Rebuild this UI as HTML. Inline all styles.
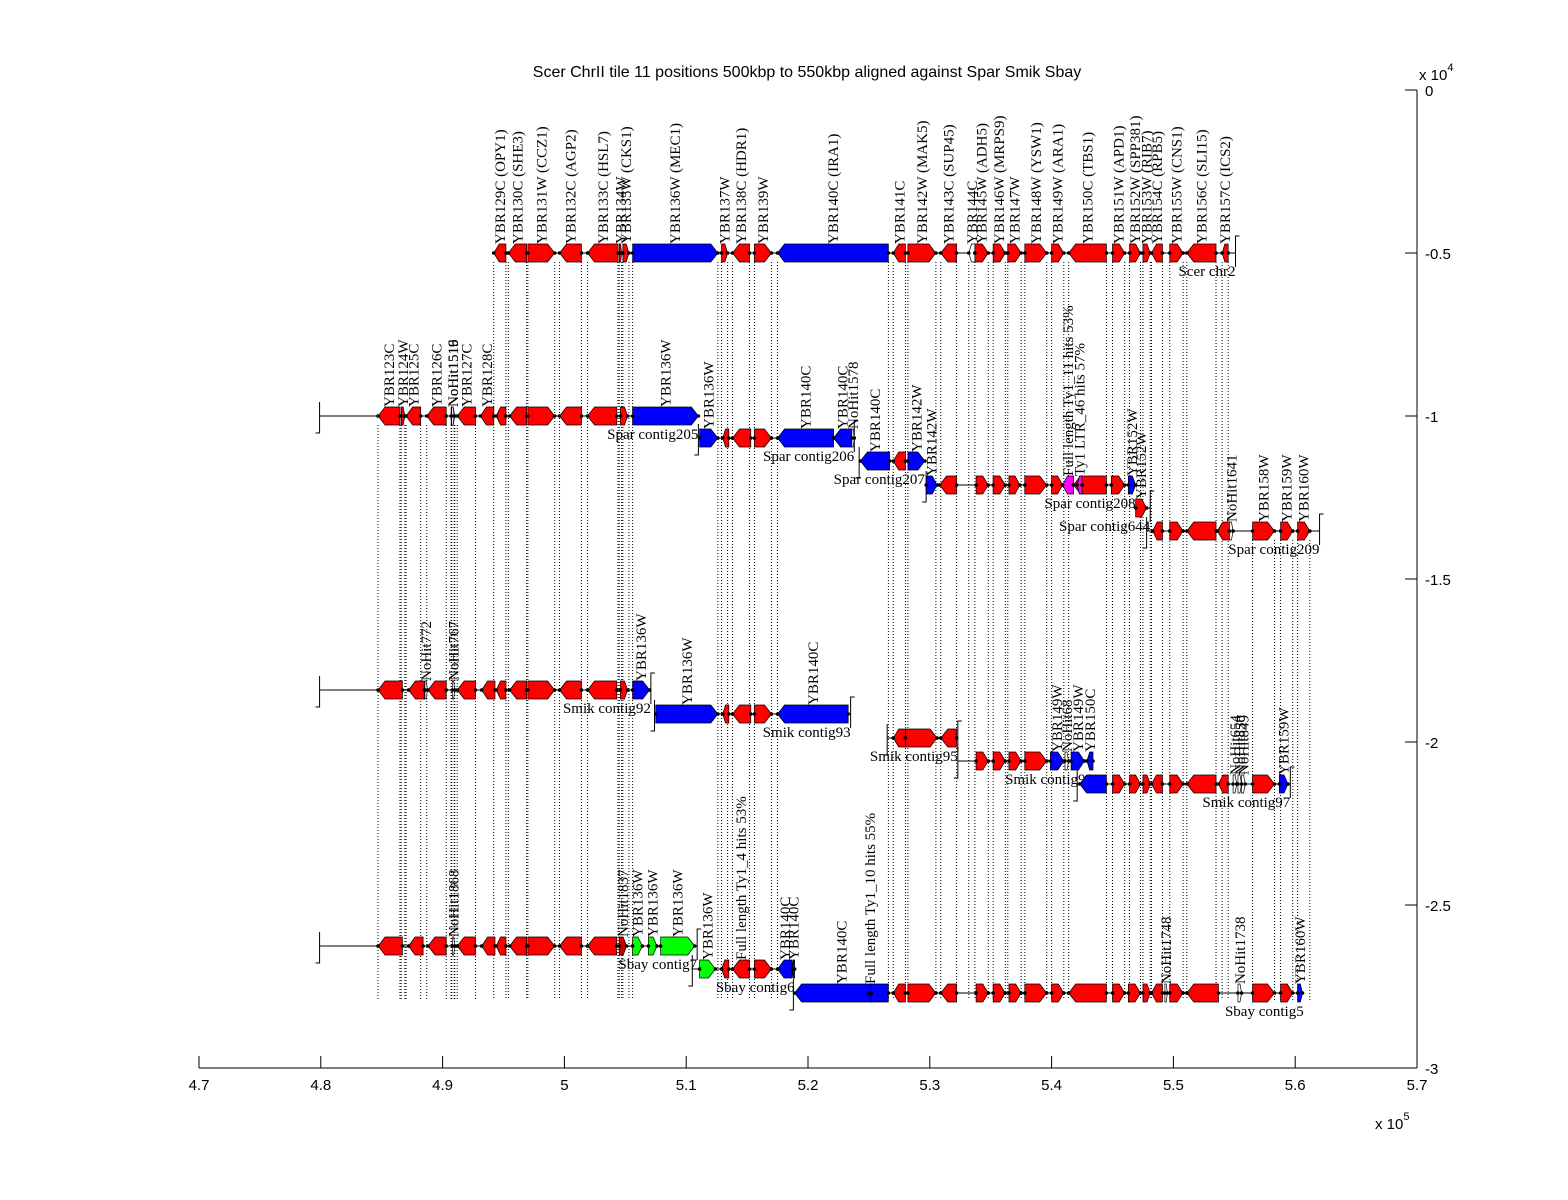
<!DOCTYPE html>
<html><head><meta charset="utf-8"><style>
html,body{margin:0;padding:0;background:#fff;}
svg{display:block;}
.ax{font-family:"Liberation Sans",Arial,sans-serif;font-size:15px;fill:#000;}
.ttl{font-family:"Liberation Sans",Arial,sans-serif;font-size:16px;fill:#000;}
.gl{font-family:"Liberation Serif","Times New Roman",serif;font-size:15px;fill:#000;}
</style></head><body>
<svg id="chart" width="1568" height="1200" viewBox="0 0 1568 1200" xmlns="http://www.w3.org/2000/svg">
<text class="ttl" x="807" y="77" text-anchor="middle">Scer ChrII tile 11 positions 500kbp to 550kbp aligned against Spar Smik Sbay</text>
<g id="dots"></g>
<g id="rows"></g>
<g id="axes"></g>
</svg>
<script>
// x in kbp, y in bp (data units of the right axis)
const xTicks = [470,480,490,500,510,520,530,540,550,560,570];
const xTickLabels = ["4.7","4.8","4.9","5","5.1","5.2","5.3","5.4","5.5","5.6","5.7"];
const yTicks = [0,-5000,-10000,-15000,-20000,-25000,-30000];
const yTickLabels = ["0","-0.5","-1","-1.5","-2","-2.5","-3"];

const contigNames = ["Scer chr2","Spar contig205","Spar contig206","Spar contig207","Spar contig208","Spar contig644","Spar contig209","Smik contig92","Smik contig93","Smik contig95","Smik contig96","Smik contig97","Sbay contig7","Sbay contig6","Sbay contig5"];
const contigY = [-5000,-10000,-10675,-11380,-12117,-12822,-13528,-18405,-19141,-19877,-20583,-21288,-26258,-26963,-27700];
const contigStart = [494.2,479.9,511.0,524.2,529.7,546.8,547.8,479.9,507.4,526.5,532.3,542.1,479.9,510.5,518.8];
const contigEnd = [555.1,511.0,523.8,529.6,546.9,548.1,562.0,507.1,523.5,532.3,543.4,559.6,510.9,518.9,560.7];
const contigLeftBracket = [0,1,1,1,1,0,1,1,1,1,1,1,1,1,1];
const contigRightBracket = [1,0,1,0,0,1,1,1,1,1,0,1,1,0,0];

const genesScer = [
[494.2,495.2,-1,'r','YBR129C (OPY1)'],[495.4,496.9,-1,'r','YBR130C (SHE3)'],[497.0,499.2,1,'r','YBR131W (CCZ1)'],
[499.6,501.4,-1,'r','YBR132C (AGP2)'],[501.9,504.4,-1,'r','YBR133C (HSL7)'],[504.5,504.7,1,'r','YBR134W'],
[504.8,505.3,1,'r','YBR135W (CKS1)'],[505.6,512.6,1,'b','YBR136W (MEC1)'],[512.9,513.4,1,'r','YBR137W'],
[513.8,515.2,-1,'r','YBR138C (HDR1)'],[515.6,517.0,1,'r','YBR139W'],[517.5,526.6,-1,'b','YBR140C (IRA1)'],
[527.0,528.0,-1,'r','YBR141C'],[528.2,530.5,1,'r','YBR142W (MAK5)'],[530.9,532.2,-1,'r','YBR143C (SUP45)'],
[533.2,533.7,-1,'w','YBR144C'],[533.7,534.8,1,'r','YBR145W (ADH5)'],[535.2,536.2,1,'r','YBR146W (MRPS9)'],
[536.4,537.5,1,'r','YBR147W'],[537.8,539.6,1,'r','YBR148W (YSW1)'],[540.0,541.0,1,'r','YBR149W (ARA1)'],
[541.4,544.5,-1,'r','YBR150C (TBS1)'],[545.0,546.0,1,'r','YBR151W (APD1)'],[546.4,547.3,1,'r','YBR152W (SPP381)'],
[547.5,548.1,1,'r','YBR153W (RIB7)'],[548.2,549.1,-1,'r','YBR154C (RPB5)'],[549.7,550.8,1,'r','YBR155W (CNS1)'],
[551.1,553.5,-1,'r','YBR156C (SLI15)'],[554.0,554.5,-1,'r','YBR157C (ICS2)']];
const genesSpar205 = [
[484.7,486.5,-1,'r','YBR123C'],[486.6,486.9,1,'r','YBR124W'],[487.0,488.2,-1,'r','YBR125C'],[488.7,490.3,-1,'r','YBR126C'],
[490.7,491.0,1,'w','NoHit1516'],[490.75,490.95,1,'w','NoHit1519'],[491.2,492.7,-1,'r','YBR127C'],[493.1,494.2,-1,'r','YBR128C'],
[494.4,495.2,-1,'r',''],[495.5,496.9,-1,'r',''],[497.0,499.2,1,'r',''],[499.6,501.4,-1,'r',''],[501.9,504.3,-1,'r',''],
[504.6,505.2,1,'r',''],[505.6,511.0,1,'b','YBR136W']];
const genesSpar206 = [
[511.1,512.6,1,'b','YBR136W'],[513.0,513.5,-1,'r',''],[513.8,515.3,-1,'r',''],[515.6,517.0,1,'r',''],
[517.5,522.1,-1,'b','YBR140C'],[522.1,523.6,-1,'b','YBR140C'],[523.6,523.8,1,'w','NoHit1578']];
const genesSpar207 = [[524.3,526.7,-1,'b','YBR140C'],[527.0,528.0,-1,'r',''],[528.2,529.6,1,'b','YBR142W']];
const genesSpar208 = [
[529.7,530.6,1,'b','YBR142W'],[530.8,532.2,-1,'r',''],[533.8,534.8,1,'r',''],[535.2,536.2,1,'r',''],[536.5,537.4,1,'r',''],
[537.8,539.6,1,'r',''],[540.0,540.9,1,'r',''],[540.9,541.8,-1,'m','Full length Ty1_11 hits 53%'],[541.8,544.5,-1,'r',''],
[542.1,542.5,-1,'m','Ty1 LTR_46 hits 57%'],[544.9,546.0,1,'r',''],[546.3,546.9,1,'b','YBR152W']];
const genesSpar644 = [[546.9,547.8,1,'r','YBR152W']];
const genesSpar209 = [
[548.3,549.1,-1,'r',''],[549.7,550.8,1,'r',''],[551.1,553.5,-1,'r',''],[553.6,554.6,-1,'r',''],[554.6,554.9,1,'w','NoHit1641'],
[556.5,558.3,1,'r','YBR158W'],[558.8,559.8,1,'r','YBR159W'],[560.2,561.2,1,'r','YBR160W']];
const genesSmik92 = [
[484.7,486.7,-1,'r',''],[487.2,488.5,-1,'r',''],[488.55,488.75,1,'w','NoHit772'],[488.8,490.3,-1,'r',''],[490.8,491.0,1,'w','NoHit767'],
[491.2,492.7,-1,'r',''],[493.2,494.3,-1,'r',''],[494.4,495.2,-1,'r',''],[495.5,496.9,-1,'r',''],[497.0,499.2,1,'r',''],
[499.6,501.4,-1,'r',''],[501.9,504.3,-1,'r',''],[504.6,505.2,1,'r',''],[505.6,507.0,1,'b','YBR136W']];
const genesSmik93 = [[507.5,512.6,1,'b','YBR136W'],[513.0,513.5,-1,'r',''],[513.8,515.3,-1,'r',''],[515.6,517.0,1,'r',''],[517.5,523.3,-1,'b','YBR140C']];
const genesSmik95 = [[527.0,528.0,-1,'r',''],[528.0,530.6,1,'r',''],[530.9,532.2,-1,'r','']];
const genesSmik96 = [
[533.8,534.8,1,'r',''],[535.2,536.2,1,'r',''],[536.5,537.5,1,'r',''],[537.8,539.6,1,'r',''],[539.9,541.0,1,'b','YBR149W'],
[541.1,541.4,1,'w','NoHit68'],[541.6,542.7,1,'b','YBR149W'],[542.9,543.4,-1,'b','YBR150C']];
const genesSmik97 = [
[542.3,544.5,-1,'b',''],[545.0,546.0,1,'r',''],[546.4,547.3,1,'r',''],[547.5,548.1,1,'r',''],[548.2,549.1,-1,'r',''],
[549.7,550.8,1,'r',''],[551.1,553.5,-1,'r',''],[553.7,554.5,-1,'r',''],[554.9,555.2,1,'w','NoHit654'],[555.3,555.6,1,'w','NoHit850'],
[555.6,555.9,1,'w','NoHit849'],[556.5,558.3,1,'r',''],[558.7,559.4,1,'b','YBR159W']];
const genesSbay7 = [
[484.7,486.7,-1,'r',''],[487.2,488.4,-1,'r',''],[488.8,490.3,-1,'r',''],[490.8,491.0,1,'w','NoHit1868'],[491.2,492.7,-1,'r',''],
[493.2,494.3,-1,'r',''],[494.4,495.2,-1,'r',''],[495.5,496.9,-1,'r',''],[497.0,499.2,1,'r',''],[499.6,501.4,-1,'r',''],
[501.9,504.3,-1,'r',''],[504.5,505.1,1,'d','NoHit1837'],[505.6,506.4,1,'g','YBR136W'],[506.9,507.6,1,'g','YBR136W'],[507.9,510.7,1,'g','YBR136W']];
const genesSbay6 = [
[511.1,512.4,1,'g','YBR136W'],[512.9,513.5,-1,'r',''],[513.8,515.2,-1,'r','Full length Ty1_4 hits 53%'],[515.6,517.0,1,'r',''],
[517.5,518.7,-1,'b','YBR140C'],[518.7,518.9,-1,'b','YBR140C']];
const genesSbay5 = [
[518.9,526.6,-1,'b','YBR140C'],[525.0,525.2,-1,'b','Full length Ty1_10 hits 55%'],[527.0,528.0,-1,'r',''],[528.2,530.5,1,'r',''],
[530.9,532.2,-1,'r',''],[533.8,534.8,1,'r',''],[535.2,536.2,1,'r',''],[536.5,537.5,1,'r',''],[537.8,539.6,1,'r',''],
[540.0,541.0,1,'r',''],[541.4,544.5,-1,'r',''],[545.0,546.0,1,'r',''],[546.3,547.3,1,'r',''],[547.5,548.1,1,'r',''],
[548.2,549.1,-1,'r',''],[549.3,549.5,1,'w','NoHit1748'],[549.7,550.8,1,'r',''],[551.1,553.7,-1,'r',''],
[555.3,555.6,1,'w','NoHit1738'],[556.5,558.3,1,'r',''],[558.8,559.8,1,'r',''],[560.2,560.6,1,'b','YBR160W']];
const contigGenes = [genesScer,genesSpar205,genesSpar206,genesSpar207,genesSpar208,genesSpar644,genesSpar209,genesSmik92,genesSmik93,genesSmik95,genesSmik96,genesSmik97,genesSbay7,genesSbay6,genesSbay5];

const NS = "http://www.w3.org/2000/svg";
const X0 = 199, X1 = 1417, Y0 = 90, Y1 = 1068;
function xs(k){ return X0 + (k - 470) / 100 * (X1 - X0); }
function ys(v){ return Y0 + (-v) / 30000 * (Y1 - Y0); }
const fills = {r:'#ff0000', b:'#0000ff', g:'#00ff00', m:'#ff00ff', w:'#ffffff', d:'#cc0000'};
function mk(tag, attrs, parent){
  const e = document.createElementNS(NS, tag);
  for (const k in attrs) e.setAttribute(k, attrs[k]);
  parent.appendChild(e);
  return e;
}
const rowsG = document.getElementById('rows');
const dotsG = document.getElementById('dots');
const axesG = document.getElementById('axes');

const guideSet = new Set();
function addGuide(k, yTop){
  const key = Math.round(xs(k));
  if (guideSet.has(key)) return;
  guideSet.add(key);
  const l = mk('line', {x1:xs(k), x2:xs(k), y1:yTop, y2:1000, stroke:'#000', 'stroke-width':1, 'stroke-dasharray':'1 2'}, dotsG);
  
  
}
genesScer.forEach(g => { addGuide(g[0], ys(contigY[0]) + 9); addGuide(g[1], ys(contigY[0]) + 9); });
genesSpar205.forEach(g => { if (g[1] < 494.2) { addGuide(g[0], ys(contigY[1]) + 9); addGuide(g[1], ys(contigY[1]) + 9); } });
genesSpar209.forEach(g => { if (g[0] > 555.1) { addGuide(g[0], ys(contigY[6]) + 9); addGuide(g[1], ys(contigY[6]) + 9); } });

contigNames.forEach((name, i) => {
  const g = mk('g', {}, rowsG);
  
  
  const y = ys(contigY[i]);
  const xa = xs(contigStart[i]), xb = xs(contigEnd[i]);
  mk('line', {x1:xa, x2:xb, y1:y, y2:y, stroke:'#000', 'stroke-width':1}, g);
  if (contigLeftBracket[i]) {
    mk('polyline', {points:`${xa},${y-14} ${xa},${y+17} ${xa-4},${y+17}`, fill:'none', stroke:'#000'}, g);
  }
  if (contigRightBracket[i]) {
    mk('polyline', {points:`${xb+4},${y-17} ${xb},${y-17} ${xb},${y+14}`, fill:'none', stroke:'#000'}, g);
  }
  contigGenes[i].forEach(ge => {
    const a = xs(ge[0]), b = xs(ge[1]), dir = ge[2];
    const len = b - a, h = 9;
    const head = Math.min(7, len * 0.45);
    let pts;
    if (dir > 0) pts = `${a},${y-h} ${b-head},${y-h} ${b},${y} ${b-head},${y+h} ${a},${y+h}`;
    else pts = `${b},${y-h} ${a+head},${y-h} ${a},${y} ${a+head},${y+h} ${b},${y+h}`;
    const p = mk('polygon', {points:pts, fill:fills[ge[3]], stroke:'#000', 'stroke-width':0.7}, g);
    
    
    mk('circle', {cx:a, cy:y, r:1.8, fill:'#000'}, g);
    mk('circle', {cx:b, cy:y, r:1.8, fill:'#000'}, g);
    if (ge[4]) {
      const cx = (a + b) / 2 + 5;
      const t = mk('text', {class:'gl', x:0, y:0, transform:`translate(${cx},${y-9}) rotate(-90)`}, g);
      t.textContent = ge[4];
      
      
    }
  });
  const lab = mk('text', {class:'gl', x:xb, y:y+23, 'text-anchor':'end'}, g);
  lab.textContent = name;
  
  
});

mk('line', {x1:X0, x2:X1, y1:Y1, y2:Y1, stroke:'#000'}, axesG);
mk('line', {x1:X1, x2:X1, y1:Y0, y2:Y1, stroke:'#000'}, axesG);
xTicks.forEach((t, i) => {
  const x = xs(t);
  mk('line', {x1:x, x2:x, y1:Y1, y2:Y1-12, stroke:'#000'}, axesG);
  const tx = mk('text', {class:'ax', x:x, y:Y1+22, 'text-anchor':'middle'}, axesG);
  tx.textContent = xTickLabels[i];
  
  
});
yTicks.forEach((t, i) => {
  const y = ys(t);
  mk('line', {x1:X1-12, x2:X1, y1:y, y2:y, stroke:'#000'}, axesG);
  const tx = mk('text', {class:'ax', x:X1+8, y:y+6}, axesG);
  tx.textContent = yTickLabels[i];
  
  
});
const xm = mk('text', {class:'ax', x:1375, y:1129}, axesG);
xm.innerHTML = 'x 10<tspan dy="-9" font-size="11">5</tspan>';


const ym = mk('text', {class:'ax', x:1419, y:80}, axesG);
ym.innerHTML = 'x 10<tspan dy="-9" font-size="11">4</tspan>';


</script>
</body></html>
